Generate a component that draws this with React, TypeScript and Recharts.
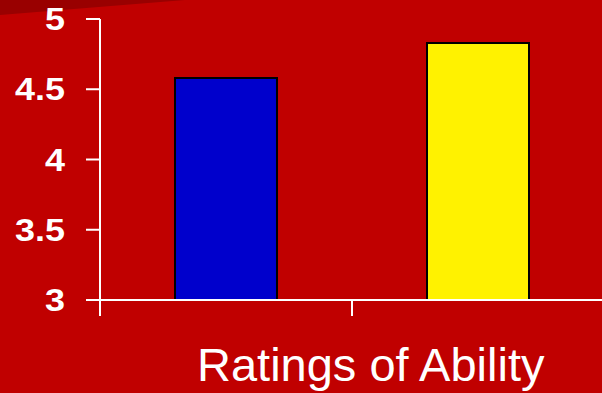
import { BarChart, Bar, XAxis, YAxis, Cell } from "recharts"

const categories = ["Group A", "Group B"]
const ratings = [4.58, 4.83]
const barColors = ["#0000CC", "#FFF200"]
const yTicks = [3, 3.5, 4, 4.5, 5]

const chartData = categories.map((name, i) => ({ name, rating: ratings[i] }))

const FONT = '"Liberation Sans", Arial, sans-serif'

// tick marks sit on the category boundaries rather than the band centres
function BoundaryTick(props: any) {
  const half = props.payload?.offset ?? 0
  const x = props.x - half
  return <line x1={x} x2={x} y1={props.y} y2={props.y + 16} stroke="#fff" strokeWidth={2} />
}

// bold, slightly widened value labels
function ValueTick(props: any) {
  return (
    <text
      transform={`translate(${props.x},${props.y}) scale(1.16,1)`}
      textAnchor="end"
      dy="0.36em"
      fill="#fff"
      fontSize={31}
      fontWeight="bold"
      fontFamily={FONT}
    >
      {props.payload.value}
    </text>
  )
}

export default function App() {
  return (
    <div
      style={{
        position: "absolute",
        top: 0,
        left: 0,
        width: 602,
        height: 393,
        overflow: "hidden",
        background: "#C00000",
        fontFamily: FONT,
      }}
    >
      <svg width={602} height={393} style={{ position: "absolute", top: 0, left: 0 }}>
        <polygon points="0,0 185,0 0,15" fill="#990000" />
      </svg>
      <div style={{ position: "absolute", top: 0, left: 0 }}>
        <BarChart width={604} height={393} data={chartData} margin={{ top: 19, right: 0, bottom: 0, left: 0 }}>
          <XAxis
            dataKey="name"
            height={93}
            axisLine={{ stroke: "#fff", strokeWidth: 2 }}
            tickLine={false}
            tickSize={0}
            tickMargin={0}
            tick={<BoundaryTick />}
            interval={0}
          />
          <YAxis
            width={100}
            domain={[3, 5]}
            ticks={yTicks}
            allowDataOverflow
            axisLine={{ stroke: "#fff", strokeWidth: 2 }}
            tickLine={{ stroke: "#fff", strokeWidth: 2 }}
            tickSize={14}
            tickMargin={21}
            tick={<ValueTick />}
          />
          <Bar dataKey="rating" barSize={102} stroke="#000" strokeWidth={2} isAnimationActive={false}>
            {chartData.map((d, i) => (
              <Cell key={d.name} fill={barColors[i]} />
            ))}
          </Bar>
        </BarChart>
      </div>
      <div
        style={{
          position: "absolute",
          left: 197,
          top: 341,
          fontSize: 47,
          lineHeight: "47px",
          color: "#fff",
          whiteSpace: "nowrap",
        }}
      >
        Ratings of Ability
      </div>
    </div>
  )
}
